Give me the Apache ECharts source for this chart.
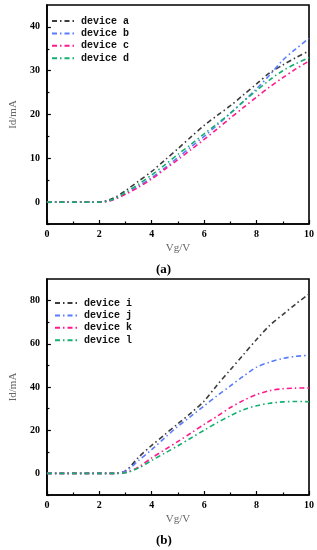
<!DOCTYPE html>
<html><head><meta charset="utf-8">
<script src="https://cdn.jsdelivr.net/npm/echarts@6/dist/echarts.min.js"></script>
<style>html,body{margin:0;padding:0;background:#fff}#c{width:317px;height:550px}</style>
</head><body><div id="c"></div>
<script>
var vg = [0,0.5,1,1.5,2,2.5,3,3.5,4,4.5,5,5.5,6,6.5,7,7.5,8,8.5,9,9.5,10];
var namesA = ['device a','device b','device c','device d'];
var devA = [0,0,0,0,0,0.8,2.6,4.8,7.0,9.6,12.2,14.9,17.5,19.8,22.0,24.5,27.0,29.5,31.3,33.0,34.5];
var devB = [0,0,0,0,0,0.5,1.9,3.7,5.6,7.8,10.2,12.6,15.0,17.6,20.3,23.0,25.9,29.0,32.4,35.0,37.4];
var devC = [0,0,0,0,0,0.5,1.8,3.4,5.3,7.5,9.7,12.0,14.3,16.7,19.2,21.6,24.0,26.3,28.4,30.4,32.2];
var devD = [0,0,0,0,0,0.6,2.2,4.1,6.2,8.5,10.9,13.2,15.6,17.9,20.3,23.0,25.5,27.9,30.0,31.6,33.0];
var namesB = ['device i','device j','device k','device l'];
var devI = [0,0,0,0,0,0,1.2,7.5,13,18,23,28,33.5,41,48,55,62,68.5,73.5,78.5,83];
var devJ = [0,0,0,0,0,0,1.0,6,11,16.5,21.8,26.5,31.3,36,40.5,45,49.2,51.5,53.2,54.2,54.7];
var devK = [0,0,0,0,0,0,0.4,3.0,7.2,11,14.8,18.7,22.7,26.5,30.5,33.8,36.5,38.3,39.2,39.5,39.6];
var devL = [0,0,0,0,0,0,0.3,2.5,6,9.4,12.8,16.4,20,23.5,26.7,29.5,31.3,32.5,33.1,33.3,33.2];
var yTicksA = [0,10,20,30,40];
var yMinorA = [-5,5,15,25,35];
var yTicksB = [0,20,40,60,80];
var yMinorB = [-10,10,30,50,70];

var colors = ['#3c3c3c','#5a7dff','#ff1a8c','#14b070'];
var dash = [5,3,1.5,3];
function pairs(arr){ return vg.map(function(x,i){ return [x, arr[i]]; }); }
function mkSeries(name, arr, idx, k){
  return {name:name, type:'line', xAxisIndex:k, yAxisIndex:k*2, data:pairs(arr), smooth:0.3,
    symbol:'none', color:colors[idx], lineStyle:{width:1.6, type:dash, color:colors[idx]}, z:3};
}
var tickFont = {fontFamily:'Liberation Serif', fontWeight:'bold', fontSize:10, color:'#000'};
function xAxis(k){
  return {type:'value', gridIndex:k, min:0, max:10, interval:2,
    name:'Vg/V', nameLocation:'middle', nameGap:19,
    nameTextStyle:{fontFamily:'Liberation Serif', fontSize:11, color:'#666'},
    axisLine:{show:true, onZero:false, lineStyle:{color:'#000', width:1.6}},
    axisTick:{show:true, inside:true, length:4, lineStyle:{color:'#000', width:1.2}},
    minorTick:{show:true, splitNumber:2, length:2.5, lineStyle:{color:'#000', width:1.2}},
    splitLine:{show:false},
    axisLabel:Object.assign({margin:5}, tickFont)};
}
function yAxis(k, mn, mx, ticks){
  return {type:'value', gridIndex:k, min:mn, max:mx,
    name:'Id/mA', nameLocation:'middle', nameGap:24,
    nameTextStyle:{fontFamily:'Liberation Serif', fontSize:11, color:'#666'},
    axisLine:{show:true, onZero:false, lineStyle:{color:'#000', width:1.6}},
    axisTick:{show:true, inside:true, length:4, customValues:ticks, lineStyle:{color:'#000', width:1.2}},
    splitLine:{show:false},
    axisLabel:Object.assign({margin:7, customValues:ticks}, tickFont)};
}
function yMinor(k, mn, mx, ticks){
  return {type:'value', gridIndex:k, min:mn, max:mx, position:'left',
    axisLine:{show:false},
    axisTick:{show:true, inside:true, length:2.5, customValues:ticks, lineStyle:{color:'#000', width:1.2}},
    axisLabel:{show:false, customValues:ticks}, splitLine:{show:false}};
}
var legendText = {fontFamily:'Liberation Mono', fontWeight:'bold', fontSize:10, color:'#111', lineHeight:12};
var chart = echarts.init(document.getElementById('c'), null, {renderer:'canvas'});
chart.setOption({
  animation:false,
  grid:[
    {left:39, top:5, width:271, height:219, show:true, borderColor:'#000', borderWidth:1.6, containLabel:false},
    {left:42, top:279, width:268, height:216, show:true, borderColor:'#000', borderWidth:1.6, containLabel:false}
  ],
  xAxis:[xAxis(0), xAxis(1)],
  yAxis:[yAxis(0,-5,45,yTicksA), yMinor(0,-5,45,yMinorA), yAxis(1,-10,90,yTicksB), yMinor(1,-10,90,yMinorB)],
  legend:[
    {data:namesA, orient:'vertical', left:46, top:10, itemWidth:24, itemHeight:10, itemGap:0.4,
     itemStyle:{opacity:0}, textStyle:legendText},
    {data:namesB, orient:'vertical', left:49, top:292, itemWidth:24, itemHeight:10, itemGap:0.4,
     itemStyle:{opacity:0}, textStyle:legendText}
  ],
  title:[
    {text:'(a)', left:151, top:258, textStyle:{fontFamily:'Liberation Serif', fontWeight:'bold', fontSize:13, color:'#000'}},
    {text:'(b)', left:151, top:529, textStyle:{fontFamily:'Liberation Serif', fontWeight:'bold', fontSize:13, color:'#000'}}
  ],
  series:[
    mkSeries(namesA[0], devA, 0, 0), mkSeries(namesA[1], devB, 1, 0),
    mkSeries(namesA[2], devC, 2, 0), mkSeries(namesA[3], devD, 3, 0),
    mkSeries(namesB[0], devI, 0, 1), mkSeries(namesB[1], devJ, 1, 1),
    mkSeries(namesB[2], devK, 2, 1), mkSeries(namesB[3], devL, 3, 1)
  ]
});
</script></body></html>
